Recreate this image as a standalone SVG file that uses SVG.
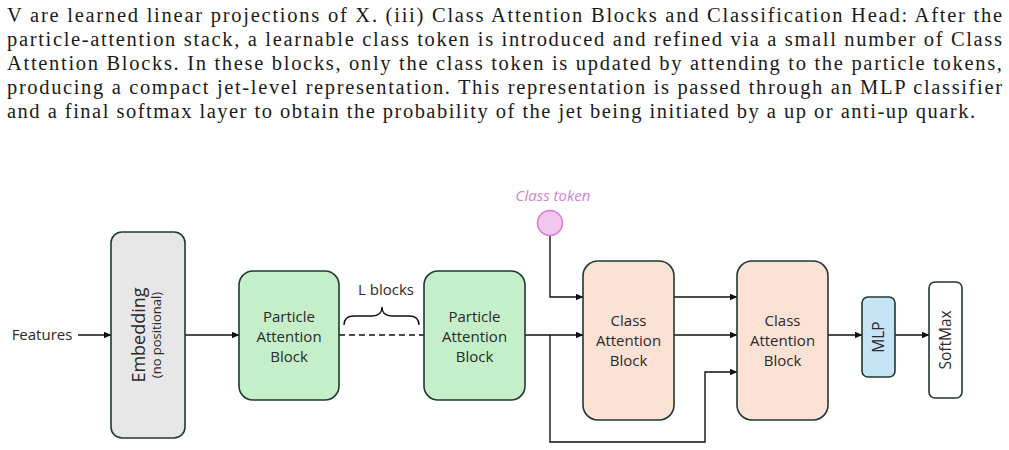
<svg xmlns="http://www.w3.org/2000/svg" width="1009" height="450" viewBox="0 0 1009 450">
<defs>
<style>
.para{font-family:"Liberation Serif","Times New Roman",serif;font-size:20.5px;fill:#1a1a1a}
.lbl{font-family:"Open Sans","Liberation Sans",sans-serif;font-size:15px;fill:#2a2a2a;text-anchor:middle}
.box{stroke:#1e3836;stroke-width:1.6}
.conn{fill:none;stroke:#111;stroke-width:1.4}
</style>
<marker id="arr" markerUnits="userSpaceOnUse" markerWidth="8" markerHeight="7" refX="7.5" refY="3.5" orient="auto">
<path d="M0,0 L8,3.5 L0,7 z" fill="#111"/>
</marker>
</defs>
<rect width="1009" height="450" fill="#fff"/>
<g id="paragraph">
<text class="para" x="7" y="22" textLength="995" lengthAdjust="spacing">V are learned linear projections of X. (iii) Class Attention Blocks and Classification Head: After the</text>
<text class="para" x="7" y="46" textLength="995" lengthAdjust="spacing">particle-attention stack, a learnable class token is introduced and refined via a small number of Class</text>
<text class="para" x="7" y="70" textLength="995" lengthAdjust="spacing">Attention Blocks. In these blocks, only the class token is updated by attending to the particle tokens,</text>
<text class="para" x="7" y="94" textLength="995" lengthAdjust="spacing">producing a compact jet-level representation. This representation is passed through an MLP classifier</text>
<text class="para" x="7" y="118" textLength="968" lengthAdjust="spacing">and a final softmax layer to obtain the probability of the jet being initiated by a up or anti-up quark.</text>
</g>
<g id="connectors">
<path class="conn" d="M78,335 H111" marker-end="url(#arr)"/>
<path class="conn" d="M185,335 H239" marker-end="url(#arr)"/>
<path class="conn" d="M339,335 H424" stroke-dasharray="6 4"/>
<path class="conn" d="M525,335 H583" marker-end="url(#arr)"/>
<path class="conn" d="M550,236 V297 H583" marker-end="url(#arr)"/>
<path class="conn" d="M550,335 V442 H705 V372 H737" marker-end="url(#arr)"/>
<path class="conn" d="M674,297 H737" marker-end="url(#arr)"/>
<path class="conn" d="M674,335 H737" marker-end="url(#arr)"/>
<path class="conn" d="M828,335 H862" marker-end="url(#arr)"/>
<path class="conn" d="M895,335 H929" marker-end="url(#arr)"/>
</g>
<g id="features">
<text class="lbl" x="42" y="340">Features</text>
</g>
<g id="embedding">
<rect class="box" x="111" y="232" width="74" height="206" rx="11" fill="#e7e7e7"/>
<text class="lbl" transform="translate(145,335) rotate(-90)" style="font-size:18px">Embedding</text>
<text class="lbl" transform="translate(161,335) rotate(-90)" style="font-size:13px">(no positional)</text>
</g>
<g id="pab1">
<rect class="box" x="239" y="271" width="100" height="129" rx="14" fill="#c5efc8"/>
<text class="lbl" x="289" y="322">Particle</text>
<text class="lbl" x="289" y="342">Attention</text>
<text class="lbl" x="289" y="362">Block</text>
</g>
<g id="lblocks">
<text class="lbl" x="386" y="295" style="font-size:15px">L blocks</text>
<path d="M344,325 Q344,316 354,316 H372 Q382,316 382,307 Q382,316 392,316 H409 Q419,316 419,325" fill="none" stroke="#111" stroke-width="1.4"/>
</g>
<g id="pab2">
<rect class="box" x="424" y="271" width="101" height="129" rx="14" fill="#c5efc8"/>
<text class="lbl" x="474.5" y="322">Particle</text>
<text class="lbl" x="474.5" y="342">Attention</text>
<text class="lbl" x="474.5" y="362">Block</text>
</g>
<g id="classtoken">
<text x="553" y="201" style="font-family:'Open Sans','Liberation Sans',sans-serif;font-size:15px;font-style:italic;fill:#d681d1;text-anchor:middle">Class token</text>
<circle cx="550" cy="223" r="12.5" fill="#f2c6ef" stroke="#d47cce" stroke-width="1.5"/>
</g>
<g id="cab1">
<rect class="box" x="583" y="261" width="91" height="159" rx="15" fill="#fbe2d5"/>
<text class="lbl" x="628.5" y="326">Class</text>
<text class="lbl" x="628.5" y="346">Attention</text>
<text class="lbl" x="628.5" y="366">Block</text>
</g>
<g id="cab2">
<rect class="box" x="737" y="261" width="91" height="159" rx="15" fill="#fbe2d5"/>
<text class="lbl" x="782.5" y="326">Class</text>
<text class="lbl" x="782.5" y="346">Attention</text>
<text class="lbl" x="782.5" y="366">Block</text>
</g>
<g id="mlp">
<rect class="box" x="862" y="297" width="33" height="80" rx="6" fill="#c5e4f5"/>
<text class="lbl" transform="translate(884,337) rotate(-90)" style="font-size:15.5px">MLP</text>
</g>
<g id="softmax">
<rect class="box" x="929" y="282" width="33" height="116" rx="6" fill="#fff"/>
<text class="lbl" transform="translate(951,340) rotate(-90)" style="font-size:15.5px">SoftMax</text>
</g>
</svg>
